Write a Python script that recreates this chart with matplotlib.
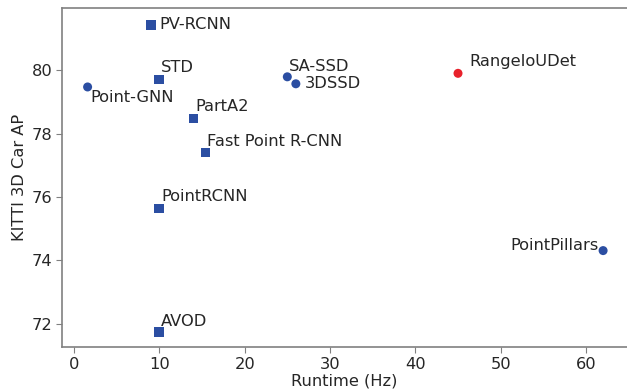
import matplotlib
matplotlib.use("Agg")
import matplotlib.pyplot as plt

# runtime (Hz) vs KITTI 3D car AP
names = ["PV-RCNN", "STD", "Point-GNN", "PartA2", "Fast Point R-CNN",
         "SA-SSD", "3DSSD", "PointRCNN", "AVOD", "PointPillars", "RangeIoUDet"]
runtime = [9.0, 10.0, 1.6, 14.0, 15.4, 25.0, 26.0, 10.0, 10.0, 62.0, 45.0]
ap = [81.43, 79.71, 79.47, 78.48, 77.40, 79.79, 79.57, 75.64, 71.74, 74.31, 79.90]
markers = ["s", "s", "o", "s", "s", "o", "o", "s", "s", "o", "o"]
# label placement: (dx, dy) in pixels, ha, va
label_pos = {
    "PV-RCNN": (9, 0, "left", "center"),
    "STD": (2, 4, "left", "bottom"),
    "Point-GNN": (3, -3, "left", "top"),
    "PartA2": (2, 4, "left", "bottom"),
    "Fast Point R-CNN": (2, 4, "left", "bottom"),
    "SA-SSD": (2, 3, "left", "bottom"),
    "3DSSD": (9, 0, "left", "center"),
    "PointRCNN": (2, 4, "left", "bottom"),
    "AVOD": (2, 3, "left", "bottom"),
    "PointPillars": (-4, -2, "right", "bottom"),
    "RangeIoUDet": (11, 4, "left", "bottom"),
}

blue = "#2b4ea2"
red = "#e8212b"
text_c = "#262626"
spine_c = "#808080"
fs = 11.7

fig = plt.figure(figsize=(6.27, 3.91), dpi=100)
ax = fig.add_axes([62/627, 44/391, 1 - 62/627, (347-8)/391])

for n, x, y, m in zip(names, runtime, ap, markers):
    c = red if n == "RangeIoUDet" else blue
    ax.scatter([x], [y], marker=m, s=42 if m == "o" else 48, color=c,
               edgecolors="none", zorder=3)
    dx, dy, ha, va = label_pos[n]
    ax.annotate(n, (x, y), xytext=(dx, dy), textcoords="offset pixels",
                ha=ha, va=va, fontsize=fs, color=text_c)

ax.set_xlim(-1.4, 64.8)
ax.set_ylim(71.27, 81.96)
ax.set_xticks([0, 10, 20, 30, 40, 50, 60])
ax.set_yticks([72, 74, 76, 78, 80])
ax.set_xlabel("Runtime (Hz)", fontsize=fs, color=text_c, labelpad=1)
ax.set_ylabel("KITTI 3D Car AP", fontsize=fs, color=text_c, labelpad=3)
ax.tick_params(labelsize=fs, colors=text_c, length=4, color=spine_c, pad=3)
for s in ["left", "bottom", "top"]:
    ax.spines[s].set_color(spine_c)
    ax.spines[s].set_linewidth(1.2)
ax.spines["right"].set_visible(False)

fig.savefig("out.png", dpi=100)
